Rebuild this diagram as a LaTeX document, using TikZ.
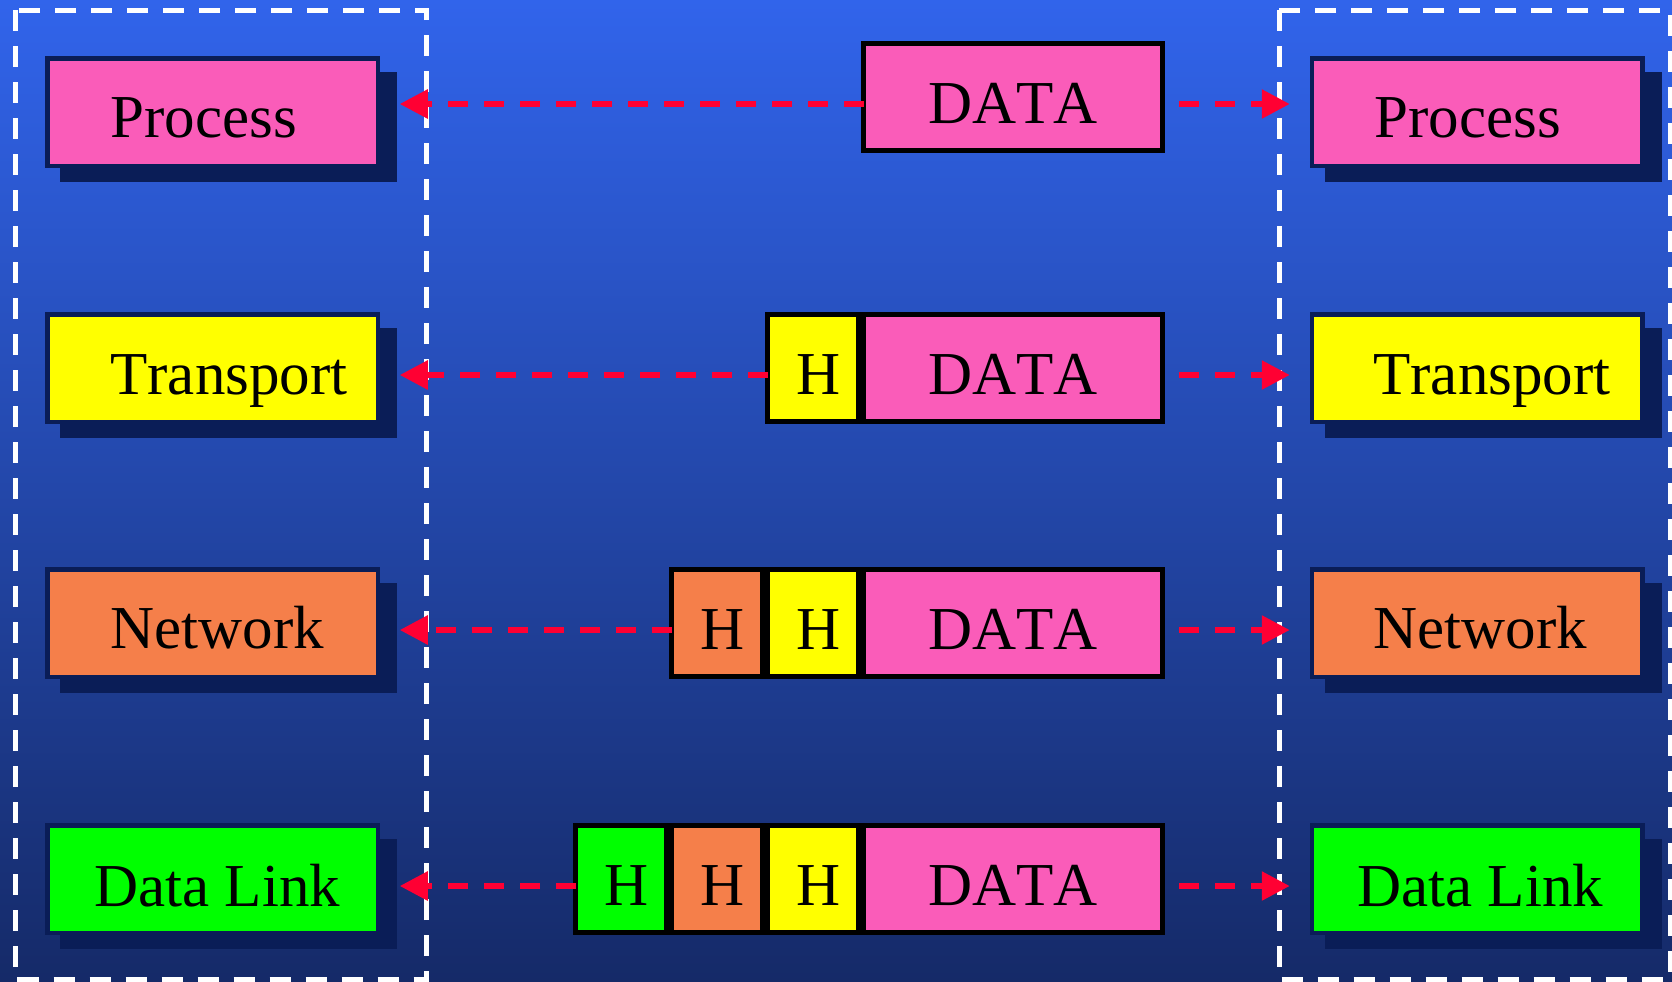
\documentclass[tikz,border=0pt]{standalone}
\usepackage{fontspec}
\setmainfont{Liberation Serif}[Kerning=Off]
\usetikzlibrary{arrows.meta,shadows,calc}
\definecolor{bgtop}{RGB}{49,100,235}
\definecolor{bgbot}{RGB}{21,42,104}
\definecolor{navyc}{RGB}{10,29,87}
\definecolor{pinkc}{RGB}{250,92,185}
\definecolor{yellowc}{RGB}{255,255,0}
\definecolor{orangec}{RGB}{245,127,74}
\definecolor{greenc}{RGB}{0,255,0}
\definecolor{redc}{RGB}{255,0,51}
\newcommand{\hdr}{\hspace*{6pt}H}
\begin{document}
\begin{tikzpicture}[x=0.5pt,y=-0.5pt,
  layer/.style={draw=navyc, line width=2.25pt, minimum width=165.25pt, minimum height=53.75pt,
    inner sep=0pt, outer sep=0pt,
    general shadow={fill=navyc, shadow xshift=8pt, shadow yshift=-7.5pt, shadow scale=1.02}},
  cell/.style={draw=black, line width=2.5pt, minimum height=53.5pt, inner sep=0pt, outer sep=0pt,
    font=\fontsize{30.5pt}{36pt}\selectfont, text height=26pt, text depth=0pt},
  hcell/.style={cell, minimum width=45.5pt},
  dcell/.style={cell, fill=pinkc, minimum width=149.5pt},
  lbl/.style={anchor=base west, inner sep=0pt, font=\fontsize{30.5pt}{36pt}\selectfont},
  frame/.style={draw=white, line width=2.5pt, dash pattern=on 10.5pt off 7.5pt},
  arr/.style={draw=redc, line width=2.85pt, dash pattern=on 10pt off 8pt,
    -{Triangle[length=14pt,width=14pt]}}
]
\useasboundingbox (0,0) rectangle (1672,981);
\shade[top color=bgtop, bottom color=bgbot] (0,0) rectangle (1672,981);

% frames
\draw[frame] (15,10) rectangle (426,979.5);
\draw[frame] (1279,10) rectangle (1670,979.5);

% layer boxes left
\node[layer, fill=pinkc]   (L1) at (212.5,112) {};
\node[layer, fill=yellowc] (L2) at (212.5,368) {};
\node[layer, fill=orangec] (L3) at (212.5,623) {};
\node[layer, fill=greenc]  (L4) at (212.5,879) {};
% layer boxes right
\node[layer, fill=pinkc]   (R1) at (1477,112) {};
\node[layer, fill=yellowc] (R2) at (1477,368) {};
\node[layer, fill=orangec] (R3) at (1477,623) {};
\node[layer, fill=greenc]  (R4) at (1477,879) {};

% labels
\node[lbl] (tL1) at (110,137) {Process};
\node[lbl] (tL2) at (110,394) {Transport};
\node[lbl] (tL3) at (110,648) {Network};
\node[lbl] (tL4) at (94,906) {Data Link};
\node[lbl] (tR1) at (1374,137) {Process};
\node[lbl] (tR2) at (1373,394) {Transport};
\node[lbl] (tR3) at (1373,648) {Network};
\node[lbl] (tR4) at (1357,906) {Data Link};

% packets
\node[dcell] (D1) at (1013,97) {DATA};

\node[hcell, fill=yellowc] (Y2) at (813,368) {\hdr};
\node[dcell] (D2) at (1013,368) {DATA};

\node[hcell, fill=orangec] (O3) at (717,623) {\hdr};
\node[hcell, fill=yellowc] (Y3) at (813,623) {\hdr};
\node[dcell] (D3) at (1013,623) {DATA};

\node[hcell, fill=greenc]  (G4) at (621,879) {\hdr};
\node[hcell, fill=orangec] (O4) at (717,879) {\hdr};
\node[hcell, fill=yellowc] (Y4) at (813,879) {\hdr};
\node[dcell] (D4) at (1013,879) {DATA};

% arrows
\draw[arr] ($(D1.west)+(0,7)$) -- ($(L1.east |- D1.west)+(22,7)$);
\draw[arr] ($(D1.east)+(16.5,7)$) -- ($(R1.west |- D1.east)+(-22,7)$);
\draw[arr] ($(Y2.west)+(0,7)$) -- ($(L2.east |- Y2.west)+(22,7)$);
\draw[arr] ($(D2.east)+(16.5,7)$) -- ($(R2.west |- D2.east)+(-22,7)$);
\draw[arr] ($(O3.west)+(0,7)$) -- ($(L3.east |- O3.west)+(22,7)$);
\draw[arr] ($(D3.east)+(16.5,7)$) -- ($(R3.west |- D3.east)+(-22,7)$);
\draw[arr] ($(G4.west)+(0,7)$) -- ($(L4.east |- G4.west)+(22,7)$);
\draw[arr] ($(D4.east)+(16.5,7)$) -- ($(R4.west |- D4.east)+(-22,7)$);
\end{tikzpicture}
\end{document}
